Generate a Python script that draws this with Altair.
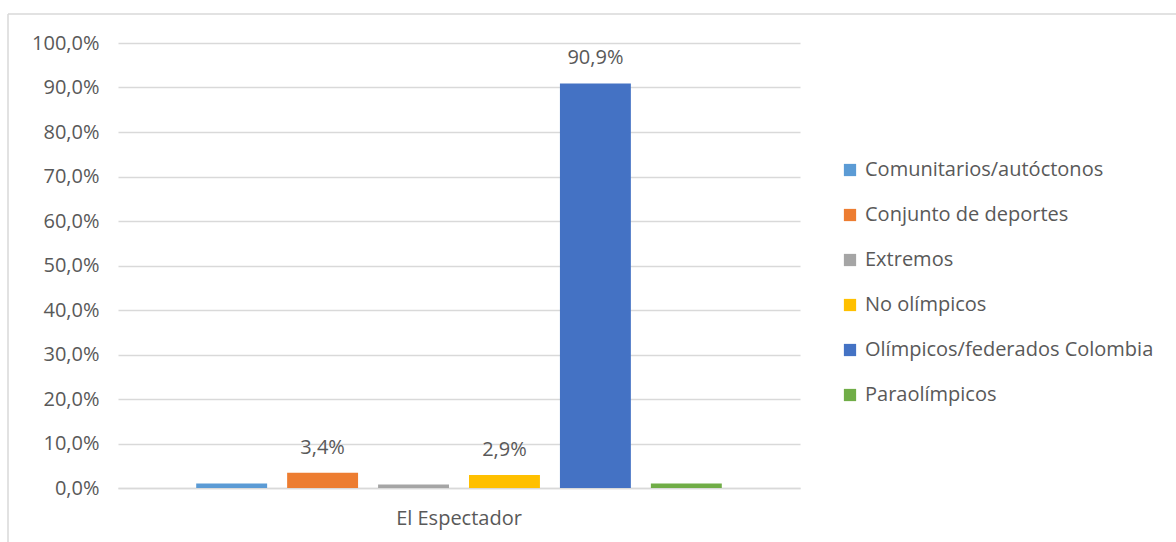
import altair as alt
import pandas as pd

categories = ["El Espectador"]
series = ["Comunitarios/autóctonos", "Conjunto de deportes", "Extremos",
          "No olímpicos", "Olímpicos/federados Colombia", "Paraolímpicos"]
values = [1.0, 3.4, 0.8, 2.9, 90.9, 1.0]
show_label = [False, True, False, True, True, False]
colors = ["#5B9BD5", "#ED7D31", "#A5A5A5", "#FFC000", "#4472C4", "#70AD47"]
y_ticks = [0, 10, 20, 30, 40, 50, 60, 70, 80, 90, 100]

df = pd.DataFrame({
    "medio": categories * len(series),
    "tipo": series,
    "valor": values,
    "mostrar": show_label,
})

FONT = "Open Sans"
GREY = "#595959"

x = alt.X("medio:N", title=None,
          scale=alt.Scale(paddingInner=0, paddingOuter=0.125),
          axis=alt.Axis(labelAngle=0, labelFontSize=20, labelColor=GREY,
                        labelFont=FONT, labelPadding=20, ticks=False, grid=False,
                        domainColor="#D9D9D9", domainWidth=1.3))
xo = alt.XOffset("tipo:N", sort=series,
                 scale=alt.Scale(paddingInner=0.22, paddingOuter=0.11))
y = alt.Y("valor:Q", title=None,
          scale=alt.Scale(domain=[0, 100], nice=False),
          axis=alt.Axis(values=y_ticks, domain=False, ticks=False,
                        labelFontSize=20, labelColor=GREY, labelFont=FONT,
                        labelPadding=19, gridColor="#D9D9D9", gridWidth=1.3,
                        labelExpr="replace(format(datum.value, '.1f'), '.', ',') + '%'"))

bars = alt.Chart(df).mark_bar().encode(
    x=x, xOffset=xo, y=y,
    color=alt.Color("tipo:N", sort=series, title=None,
                    scale=alt.Scale(domain=series, range=colors),
                    legend=alt.Legend(orient="none", legendX=722, legendY=117,
                                      symbolType="square", symbolSize=150,
                                      symbolStrokeWidth=0, labelFontSize=20,
                                      labelFont=FONT, labelColor=GREY,
                                      rowPadding=25, labelOffset=5,
                                      labelLimit=400)),
)

labels = alt.Chart(df).transform_filter("datum.mostrar").transform_calculate(
    txt="replace(format(datum.valor, '.1f'), '.', ',') + '%'"
).mark_text(baseline="middle", dy=-25, fontSize=20, font=FONT, color=GREY).encode(
    x=x, xOffset=xo, y=y, text="txt:N"
)

border = alt.Chart(pd.DataFrame({"a": [0]})).mark_rule(color="#D9D9D9", strokeWidth=1.5).encode(
    x=alt.value(-110), x2=alt.value(1070), y=alt.value(-29)
)
border2 = alt.Chart(pd.DataFrame({"a": [0]})).mark_rule(color="#D9D9D9", strokeWidth=1.5).encode(
    x=alt.value(-110), y=alt.value(-29), y2=alt.value(520)
)

chart = alt.layer(bars, labels, border, border2).properties(
    width=682, height=445,
    autosize=alt.AutoSizeParams(type="none"),
    padding={"left": 118, "top": 43, "right": 376, "bottom": 54},
    background="white",
).configure_view(stroke=None)

chart.save("out.html", embed_options={"renderer": "svg", "actions": False})
